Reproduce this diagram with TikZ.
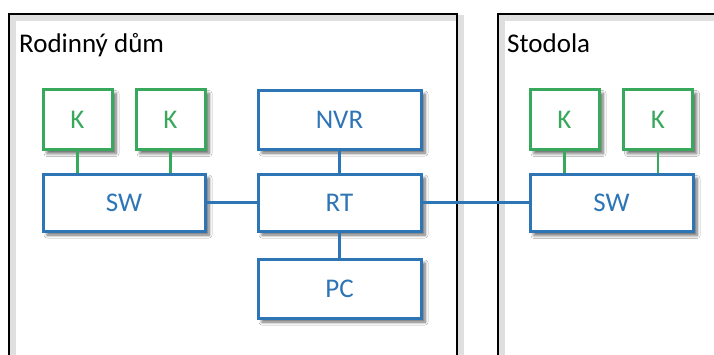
\documentclass[tikz,border=0pt]{standalone}
\usepackage{fontspec}
\setmainfont{Carlito}
\usetikzlibrary{shadows.blur}
\definecolor{myblue}{HTML}{2E75B6}
\definecolor{mygreen}{HTML}{38A85C}
\tikzset{
  lbl/.style={font=\fontsize{27}{31}\selectfont},
  sh/.style={blur shadow={shadow xshift=4pt, shadow yshift=-4pt, shadow blur steps=6, shadow blur radius=3pt, shadow opacity=60}},
  bbox/.style={draw=myblue, line width=3pt, fill=white, text=myblue, lbl, inner sep=0pt, minimum width=163pt, sh},
  kbox/.style={draw=mygreen, line width=3pt, fill=white, text=mygreen, lbl, inner sep=0pt, minimum width=69pt, minimum height=60pt, sh},
  bline/.style={draw=myblue, line width=2.5pt},
  gline/.style={draw=mygreen, line width=2.5pt},
  frame/.style={draw=black, line width=2.8pt},
  frameshadow/.style={draw=black!35, line width=6pt, opacity=0.35},
  title/.style={lbl, text=black, anchor=base west, inner sep=0pt}
}
\begin{document}
\begin{tikzpicture}[x=1pt,y=-1pt]
\useasboundingbox (0,0) rectangle (714,354);
\clip (0,0) rectangle (714,354);
\fill[white] (0,0) rectangle (714,354);
% frames with soft shadow
\draw[frameshadow] (12.5,17.5) rectangle (460.5,400);
\draw[frameshadow] (501.5,17.5) rectangle (760,400);
\draw[frame] (9,14) rectangle (457,400);
\draw[frame] (498,14) rectangle (757,400);
\node[title] (t1) at (19,52) {Rodinný dům};
\node[title] (t2) at (507,52) {Stodola};
% boxes
\node[kbox] (k1) at (77.5,119.5) {K};
\node[kbox] (k2) at (170.5,119.5) {K};
\node[kbox] (k3) at (564.5,119.5) {K};
\node[kbox] (k4) at (658,119.5) {K};
\node[bbox, minimum width=162pt, minimum height=57pt] (sw1) at (124,202.5) {SW};
\node[bbox, minimum height=57pt] (rt) at (339.5,202.5) {RT};
\node[bbox, minimum height=59pt] (nvr) at (339.5,119.5) {NVR};
\node[bbox, minimum height=59pt] (pc) at (339.5,288.5) {PC};
\node[bbox, minimum height=57pt] (sw2) at (611.5,203) {SW};
% connectors
\draw[gline] (k1.south) -- (k1.south |- sw1.north);
\draw[gline] (k2.south) -- (k2.south |- sw1.north);
\draw[gline] (k3.south) -- (k3.south |- sw2.north);
\draw[gline] (k4.south) -- (k4.south |- sw2.north);
\draw[bline] (sw1.east) -- (rt.west);
\draw[bline] (rt.east) -- (rt.east -| sw2.west);
\draw[bline] (nvr.south) -- (rt.north);
\draw[bline] (rt.south) -- (pc.north);
\end{tikzpicture}
\end{document}
